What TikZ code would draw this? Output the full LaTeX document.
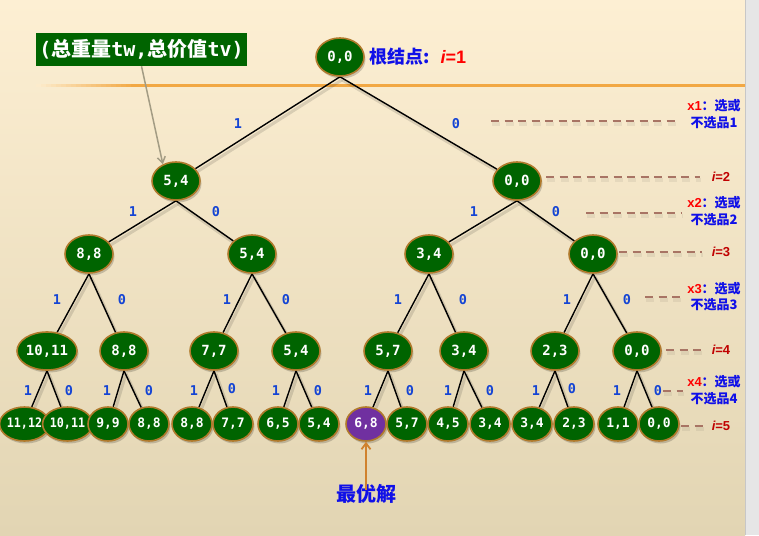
\documentclass[tikz,border=0pt]{standalone}
\usepackage{fontspec}
\usepackage{graphicx}
\setmainfont{Liberation Sans}
\newfontfamily\monof{DejaVu Sans Mono}
\newfontfamily\cjkf{Noto Sans CJK SC}
\usetikzlibrary{shapes.geometric,arrows.meta,shadows}
\definecolor{bgtop}{HTML}{FDEFD3}
\definecolor{bgbot}{HTML}{E2D5B3}
\definecolor{nodegreen}{HTML}{006400}
\definecolor{nodeborder}{HTML}{B07A2C}
\definecolor{bestpurple}{HTML}{7030A0}
\definecolor{digitblue}{HTML}{1444D4}
\definecolor{dashbrown}{HTML}{A87464}
\definecolor{labelred}{HTML}{C00000}
\definecolor{rootred}{HTML}{FF0000}
\definecolor{textblue}{HTML}{1010E8}
\definecolor{orangeline}{HTML}{F2A844}
\definecolor{arrowgray}{HTML}{A39C84}
\definecolor{bestarrow}{HTML}{D0822E}
\definecolor{stripgray}{HTML}{E6E6E6}
\pgfdeclarelayer{bglayer}
\pgfdeclarelayer{edgelayer}
\pgfsetlayers{bglayer,edgelayer,main}
\begin{document}
\begin{tikzpicture}[x=1pt,y=-1pt,
  tnode/.style={ellipse, draw=nodeborder, line width=1.6pt, fill=nodegreen, text=white,
    inner sep=0pt, minimum width=48pt, minimum height=38pt,
    font=\monof\bfseries\fontsize{14}{14}\selectfont,
    drop shadow={shadow xshift=1.5pt, shadow yshift=-2.5pt, opacity=0.18, fill=black}},
  leaf/.style={tnode, minimum width=40pt, minimum height=34pt,
    font=\monof\bfseries\fontsize{13}{13}\selectfont},
  digit/.style={text=digitblue, inner sep=0pt, font=\monof\bfseries\fontsize{13.5}{13.5}\selectfont},
  branch/.style={line width=1.4pt, black},
  branchshadow/.style={line width=3pt, black, opacity=0.12},
  dashline/.style={dashbrown, line width=2pt, dash pattern=on 8pt off 5.5pt},
  dashshadow/.style={black, opacity=0.06, line width=3.5pt, dash pattern=on 8pt off 5.5pt},
  ilabel/.style={text=labelred, inner sep=0pt, font=\bfseries\fontsize{13}{13}\selectfont},
  xlabel/.style={align=center, inner sep=0pt, font=\bfseries\fontsize{13}{16.5}\selectfont}
]
\useasboundingbox (0,0) rectangle (759,535);
\begin{pgfonlayer}{bglayer}
  \shade[top color=bgtop, bottom color=bgbot] (0,0) rectangle (745,535);
  \fill[stripgray] (745,0) rectangle (759,535);
  \fill[black!22] (745,0) rectangle (746.2,535);
  \foreach \k in {0,...,19}{
    \pgfmathsetmacro{\pct}{5*\k+5}
    \draw[line width=2.4pt, color=orangeline!\pct!bgtop] (36+5*\k,85.3) -- (41.3+5*\k,85.3);
  }
  \draw[line width=2.4pt, orangeline] (136,85.3) -- (745,85.3);
\end{pgfonlayer}

% tree nodes
\node[tnode] (r) at (340,57) {0,0};
\node[tnode] (a1) at (176,181) {5,4};
\node[tnode] (a0) at (517,181) {0,0};
\node[tnode] (b11) at (89,254) {8,8};
\node[tnode] (b10) at (252,254) {5,4};
\node[tnode] (b01) at (429,254) {3,4};
\node[tnode] (b00) at (593,254) {0,0};
\node[tnode, minimum width=60pt] (c1) at (47,351) {10,11};
\node[tnode] (c2) at (124,351) {8,8};
\node[tnode] (c3) at (214,351) {7,7};
\node[tnode] (c4) at (296,351) {5,4};
\node[tnode] (c5) at (388,351) {5,7};
\node[tnode] (c6) at (464,351) {3,4};
\node[tnode] (c7) at (555,351) {2,3};
\node[tnode] (c8) at (637,351) {0,0};
\node[leaf, minimum width=45pt] (d1) at (24.5,424) {\scalebox{0.9}[1]{11,12}};
\node[leaf, minimum width=45pt] (d2) at (67.5,424) {\scalebox{0.9}[1]{10,11}};
\node[leaf] (d3) at (108,424) {9,9};
\node[leaf] (d4) at (149,424) {8,8};
\node[leaf] (d5) at (192,424) {8,8};
\node[leaf] (d6) at (233,424) {7,7};
\node[leaf] (d7) at (278,424) {6,5};
\node[leaf] (d8) at (319,424) {5,4};
\node[leaf, fill=bestpurple] (d9) at (366,424) {6,8};
\node[leaf] (d10) at (407,424) {5,7};
\node[leaf] (d11) at (448,424) {4,5};
\node[leaf] (d12) at (490,424) {3,4};
\node[leaf] (d13) at (532,424) {3,4};
\node[leaf] (d14) at (574,424) {2,3};
\node[leaf] (d15) at (618,424) {1,1};
\node[leaf] (d16) at (659,424) {0,0};

% branches
\begin{pgfonlayer}{edgelayer}
\foreach \p/\c in {r/a1, r/a0, a1/b11, a1/b10, a0/b01, a0/b00,
  b11/c1, b11/c2, b10/c3, b10/c4, b01/c5, b01/c6, b00/c7, b00/c8,
  c1/d1, c1/d2, c2/d3, c2/d4, c3/d5, c3/d6, c4/d7, c4/d8,
  c5/d9, c5/d10, c6/d11, c6/d12, c7/d13, c7/d14, c8/d15, c8/d16}{
  \draw[branchshadow, transform canvas={shift={(2pt,-3pt)}}] (\p.south) -- (\c);
  \draw[branch] (\p.south) -- (\c);
}
\end{pgfonlayer}

% branch digits
\node[digit] (e1) at (238,124) {1};
\node[digit] (e2) at (456,124) {0};
\node[digit] (e3) at (133,212) {1};
\node[digit] (e4) at (216,212) {0};
\node[digit] (e5) at (474,212) {1};
\node[digit] (e6) at (556,212) {0};
\node[digit] (f1) at (57,300) {1};
\node[digit] (f2) at (122,300) {0};
\node[digit] (f3) at (227,300) {1};
\node[digit] (f4) at (286,300) {0};
\node[digit] (f5) at (398,300) {1};
\node[digit] (f6) at (463,300) {0};
\node[digit] (f7) at (567,300) {1};
\node[digit] (f8) at (627,300) {0};
\node[digit] (g1) at (28,391) {1};
\node[digit] (g2) at (69,391) {0};
\node[digit] (g3) at (107,391) {1};
\node[digit] (g4) at (149,391) {0};
\node[digit] (g5) at (194,391) {1};
\node[digit] (g6) at (232,389) {0};
\node[digit] (g7) at (276,391) {1};
\node[digit] (g8) at (318,391) {0};
\node[digit] (g9) at (368,391) {1};
\node[digit] (g10) at (410,391) {0};
\node[digit] (g11) at (448,391) {1};
\node[digit] (g12) at (490,391) {0};
\node[digit] (g13) at (536,391) {1};
\node[digit] (g14) at (572,389) {0};
\node[digit] (g15) at (617,391) {1};
\node[digit] (g16) at (658,391) {0};

% dashed guide lines
\coordinate (x1s) at (491,121); \coordinate (x1e) at (675,121);
\coordinate (i2s) at (546,177); \coordinate (i2e) at (700,177);
\coordinate (x2s) at (586,213); \coordinate (x2e) at (682,213);
\coordinate (i3s) at (619,252); \coordinate (i3e) at (702,252);
\coordinate (x3s) at (645,297); \coordinate (x3e) at (683,297);
\coordinate (i4s) at (666,350); \coordinate (i4e) at (703,350);
\coordinate (x4s) at (663,391); \coordinate (x4e) at (683,391);
\coordinate (i5s) at (681,426); \coordinate (i5e) at (703,426);
\foreach \a/\b in {x1s/x1e, i2s/i2e, x2s/x2e, i3s/i3e, x3s/x3e, i4s/i4e, x4s/x4e, i5s/i5e}{
  \draw[dashshadow, transform canvas={shift={(1pt,-3pt)}}] (\a) -- (\b);
  \draw[dashline] (\a) -- (\b);
}

% right labels
\node[ilabel] (il2) at (721,177) {\itshape i\upshape=2};
\node[ilabel] (il3) at (721,252) {\itshape i\upshape=3};
\node[ilabel] (il4) at (721,350) {\itshape i\upshape=4};
\node[ilabel] (il5) at (721,426) {\itshape i\upshape=5};
\node[xlabel] (xl1) at (714,114) {{\color{rootred}x1}{\cjkf\color{textblue}：选或}\\{\cjkf\color{textblue}不选品1}};
\node[xlabel] (xl2) at (714,211) {{\color{rootred}x2}{\cjkf\color{textblue}：选或}\\{\cjkf\color{textblue}不选品2}};
\node[xlabel] (xl3) at (714,296.5) {{\color{rootred}x3}{\cjkf\color{textblue}：选或}\\{\cjkf\color{textblue}不选品3}};
\node[xlabel] (xl4) at (714,390) {{\color{rootred}x4}{\cjkf\color{textblue}：选或}\\{\cjkf\color{textblue}不选品4}};

% root label
\node[anchor=west, inner sep=0pt] (rootlbl) at (369,57)
  {{\cjkf\bfseries\fontsize{18}{18}\selectfont\color{textblue}根结点:}\hspace{11pt}{\color{rootred}\bfseries\fontsize{18}{18}\selectfont\itshape i\upshape=1}};

% top-left caption
\node[fill=nodegreen, text=white, minimum width=211pt, minimum height=33pt, inner sep=0pt,
  font=\cjkf\bfseries\fontsize{20}{20}\selectfont] (cap) at (141.5,49.5)
  {{\monof(}总重量{\monof tw,}总价值{\monof tv)}};
\draw[arrowgray, line width=1.5pt, -{Straight Barb[length=6pt,width=8pt]}] (cap.south) -- (a1.128);

% optimum
\node[text=textblue, inner sep=0pt, font=\cjkf\bfseries\fontsize{20}{20}\selectfont] (best) at (366,494) {最优解};
\draw[bestarrow, line width=1.8pt, -{Straight Barb[length=6pt,width=9pt]}] ([yshift=-6pt]best.north) -- (d9.south);
\end{tikzpicture}
\end{document}
